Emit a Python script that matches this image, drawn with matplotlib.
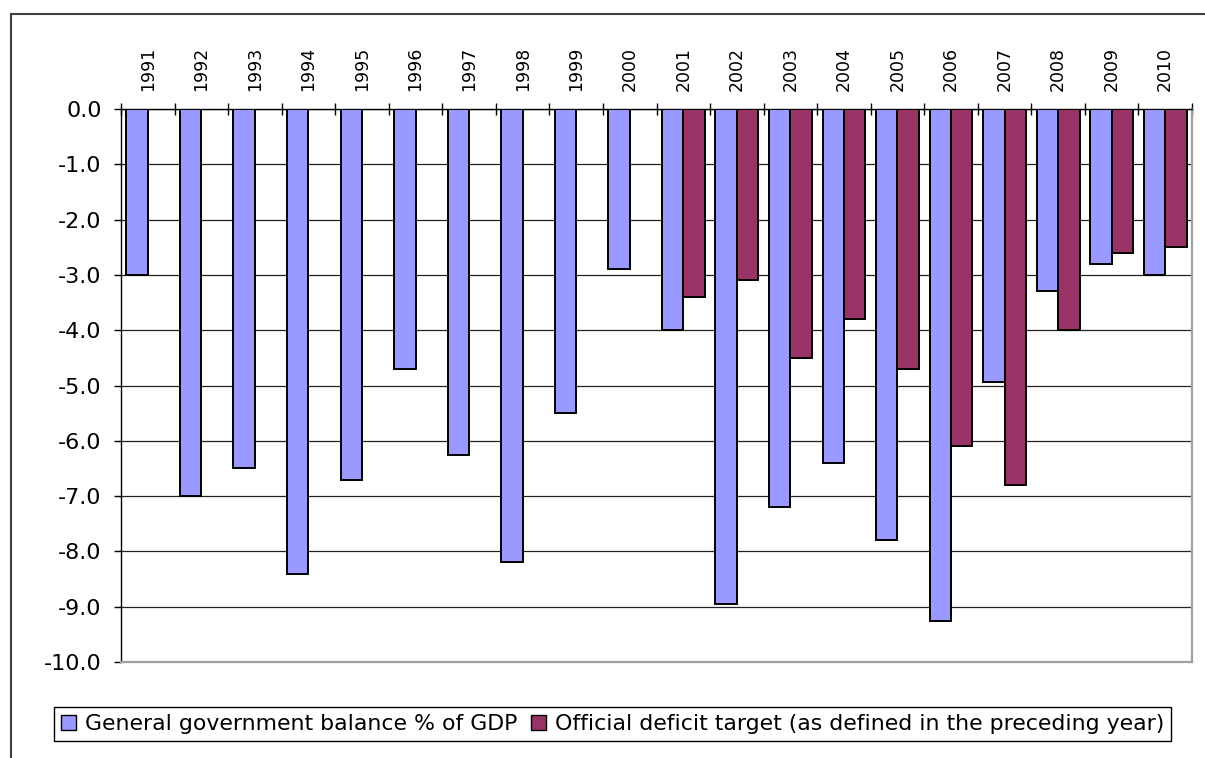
import numpy as np
import matplotlib
matplotlib.use("Agg")
import matplotlib.pyplot as plt
from matplotlib.lines import Line2D
from matplotlib.patches import Patch

plt.rcParams['font.family'] = ['DejaVu Sans']
plt.rcParams['axes.unicode_minus'] = False

years = [str(y) for y in range(1991, 2011)]
gg_balance = [-3.0, -7.0, -6.5, -8.4, -6.7, -4.7, -6.25, -8.2, -5.5, -2.9,
              -4.0, -8.95, -7.2, -6.4, -7.8, -9.25, -4.93, -3.3, -2.8, -3.0]
deficit_target = [np.nan] * 10 + [-3.4, -3.1, -4.5, -3.8, -4.7, -6.1, -6.8, -4.0, -2.6, -2.5]
y_ticks = [0.0, -1.0, -2.0, -3.0, -4.0, -5.0, -6.0, -7.0, -8.0, -9.0, -10.0]

label_balance = "General government balance % of GDP"
label_target = "Official deficit target (as defined in the preceding year)"

W, H = 1205, 758
fig = plt.figure(figsize=(W / 100, H / 100), dpi=100)
ax = fig.add_axes([121 / W, 1 - 662 / H, (1192 - 121) / W, (662 - 109) / H])

c_bal = '#9999FF'
c_tgt = '#993366'
x = np.arange(len(years))
bw = 0.4
ax.bar(x - bw / 2, gg_balance, width=bw, color=c_bal, edgecolor='black', linewidth=1.4, zorder=3)
ax.bar(x + bw / 2, deficit_target, width=bw, color=c_tgt, edgecolor='black', linewidth=1.4, zorder=3)

ax.set_xlim(-0.5, len(years) - 0.5)
ax.set_ylim(-10, 0)

# category axis along the zero line (top)
ax.xaxis.tick_top()
ax.set_xticks(x)
ax.set_xticklabels(years, rotation=90, fontsize=12.5)
ax.tick_params(axis='x', which='major', length=0, pad=13)
ax.set_xticks(np.arange(-0.5, len(years)), minor=True)
ax.tick_params(axis='x', which='minor', direction='inout', length=9, width=1, color='black',
               top=True, bottom=False)

ax.set_yticks(y_ticks)
ax.set_yticklabels([f"{v:.1f}" for v in y_ticks], fontsize=16)
ax.tick_params(axis='y', which='major', direction='out', length=5, width=1, pad=9, color='black')
ax.grid(axis='y', color='#222222', linewidth=0.9, zorder=1)
ax.set_axisbelow(True)

for side in ('top', 'left'):
    ax.spines[side].set_color('black')
    ax.spines[side].set_linewidth(1.0)
for side in ('right', 'bottom'):
    ax.spines[side].set_color('#a0a0a0')
    ax.spines[side].set_linewidth(1.6)

handles = [Patch(facecolor=c_bal, edgecolor='black', linewidth=1.0),
           Patch(facecolor=c_tgt, edgecolor='black', linewidth=1.0)]
leg = fig.legend(handles, [label_balance, label_target], loc='center',
                 bbox_to_anchor=(612.5 / W, 1 - 724 / H), ncol=2, fontsize=15.8,
                 frameon=True, fancybox=False, edgecolor='black', framealpha=1,
                 handlelength=0.7, handleheight=0.7, handletextpad=0.4,
                 columnspacing=0.6, borderpad=0.3, borderaxespad=0)
leg.get_frame().set_linewidth(1.0)

# chart-area frame (open at right/bottom edges)
fig.add_artist(Line2D([11 / W, 1.0], [1 - 14 / H, 1 - 14 / H], color='#404040', linewidth=1.5,
                      transform=fig.transFigure))
fig.add_artist(Line2D([11 / W, 11 / W], [1 - 14 / H, 0.0], color='#404040', linewidth=1.5,
                      transform=fig.transFigure))

fig.savefig('out.png', dpi=100)
